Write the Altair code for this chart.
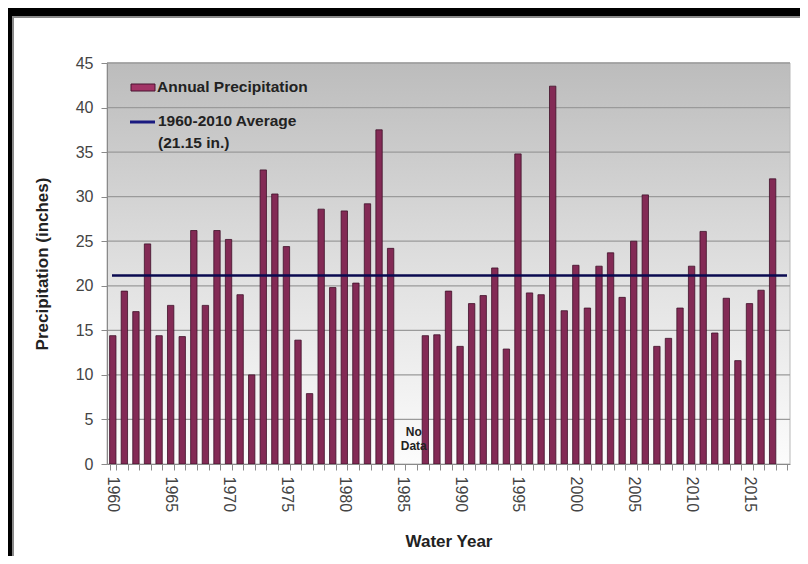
import altair as alt
import pandas as pd

years = list(range(1960, 2019))
precip = [14.4, 19.4, 17.1, 24.7, 14.4, 17.8, 14.3, 26.2, 17.8, 26.2,
          25.2, 19.0, 10.0, 33.0, 30.3, 24.4, 13.9, 7.9, 28.6, 19.8,
          28.4, 20.3, 29.2, 37.5, 24.2, None, None, 14.4, 14.5, 19.4,
          13.2, 18.0, 18.9, 22.0, 12.9, 34.8, 19.2, 19.0, 42.4, 17.2,
          22.3, 17.5, 22.2, 23.7, 18.7, 25.0, 30.2, 13.2, 14.1, 17.5,
          22.2, 26.1, 14.7, 18.6, 11.6, 18.0, 19.5, 32.0, None]
average = 21.15
grid_values = [5, 10, 15, 20, 25, 30, 35, 40, 45]
y_ticks = [0, 5, 10, 15, 20, 25, 30, 35, 40, 45]
no_data_year = 1986
no_data_label = "No\nData"
legend_bar_label = "Annual Precipitation"
legend_line_label1 = "1960-2010 Average"
legend_line_label2 = "(21.15 in.)"

W, H = 683, 401
FONT = "Liberation Sans"

df = pd.DataFrame({"year": years, "precip": precip})
one = pd.DataFrame({"a": [0]})

yscale = alt.Scale(domain=[0, 45], nice=False)
xscale = alt.Scale(domain=years, paddingInner=0.45, paddingOuter=0.225)
YTITLE = "Precipitation (inches)"
XTITLE = "Water Year"

yaxis = alt.Axis(values=y_ticks, grid=False, tickSize=6,
                 tickColor="#8a8a8a", domainColor="#8a8a8a", labelFont=FONT,
                 labelFontSize=16, labelColor="#444", labelPadding=8,
                 titleFont=FONT, titleFontSize=17, titleFontWeight="bold",
                 titleColor="#222", titlePadding=24, zindex=1)
xaxis = alt.Axis(labelAngle=90, labelExpr="datum.value % 5 === 0 ? datum.label : ''",
                 tickBand="extent", tickSize=6, tickColor="#8a8a8a",
                 domainColor="#8a8a8a", labelFont=FONT, labelFontSize=16,
                 labelColor="#444", labelPadding=6, titleFont=FONT,
                 titleFontSize=17, titleFontWeight="bold", titleColor="#222",
                 titlePadding=22, zindex=1)

frame_black = alt.Chart(one).mark_rect(color="black").encode(
    x=alt.value(-99), x2=alt.value(W + 30), y=alt.value(-55), y2=alt.value(H + 100))
frame_white = alt.Chart(one).mark_rect(fill="white", stroke="#8a8a8a", strokeWidth=2).encode(
    x=alt.value(-94), x2=alt.value(W + 40), y=alt.value(-46), y2=alt.value(H + 120))

plot_bg = alt.Chart(one).mark_rect(
    color=alt.Gradient(gradient="linear", x1=0, x2=0, y1=0, y2=1,
                       stops=[alt.GradientStop(color="#bcbcbc", offset=0),
                              alt.GradientStop(color="#e2e2e2", offset=0.55),
                              alt.GradientStop(color="#fcfcfc", offset=1)]),
    stroke="#b8b8b8", strokeWidth=1).encode(
    x=alt.value(0), x2=alt.value(W), y=alt.value(0), y2=alt.value(H))

grid = alt.Chart(pd.DataFrame({"v": grid_values})).mark_rule(
    color="#9a9a9a", strokeWidth=1.3).encode(
    y=alt.Y("v:Q", scale=yscale, title=YTITLE, axis=yaxis))

bars = alt.Chart(df).mark_bar(color="#832a55", stroke="#3f1028", strokeWidth=0.8).encode(
    x=alt.X("year:O", scale=xscale, title=XTITLE, axis=xaxis),
    y=alt.Y("precip:Q", scale=yscale, title=YTITLE, axis=yaxis))

avg = alt.Chart(pd.DataFrame({"avg": [average]})).mark_rule(
    color="#0a0a50", strokeWidth=2.5).encode(
    y=alt.Y("avg:Q", scale=yscale, title=YTITLE, axis=yaxis),
    x=alt.value(5), x2=alt.value(W - 3))

nodata = alt.Chart(pd.DataFrame({"year": [no_data_year], "v": [3.6], "t": [no_data_label]})).mark_text(
    font=FONT, fontSize=12, fontWeight="bold", color="#222", lineBreak="\n",
    baseline="middle", align="center").encode(
    x=alt.X("year:O", scale=xscale, title=XTITLE, axis=xaxis),
    y=alt.Y("v:Q", scale=yscale, title=YTITLE, axis=yaxis), text="t:N")

leg_rect = alt.Chart(one).mark_rect(fill="#a23466", stroke="#4a1230", strokeWidth=1).encode(
    x=alt.value(24), x2=alt.value(48), y=alt.value(21), y2=alt.value(28))
leg_line = alt.Chart(one).mark_rule(color="#1a1a80", strokeWidth=3).encode(
    x=alt.value(23), x2=alt.value(48), y=alt.value(59))
leg_t1 = alt.Chart(one).mark_text(font=FONT, fontSize=15.5, fontWeight="bold", color="#222",
                                  align="left", baseline="middle").encode(
    x=alt.value(50), y=alt.value(24), text=alt.value(legend_bar_label))
leg_t2 = alt.Chart(one).mark_text(font=FONT, fontSize=15.5, fontWeight="bold", color="#222",
                                  align="left", baseline="middle").encode(
    x=alt.value(51), y=alt.value(58), text=alt.value(legend_line_label1))
leg_t3 = alt.Chart(one).mark_text(font=FONT, fontSize=15.5, fontWeight="bold", color="#222",
                                  align="left", baseline="middle").encode(
    x=alt.value(51), y=alt.value(80), text=alt.value(legend_line_label2))

chart = alt.layer(frame_black, frame_white, plot_bg, grid, bars, avg, nodata,
                  leg_rect, leg_line, leg_t1, leg_t2, leg_t3).properties(
    width=W, height=H,
    autosize=alt.AutoSizeParams(type="none"),
    padding={"left": 99, "top": 55, "right": 10, "bottom": 92},
    background="white",
).configure_view(stroke=None)

chart.save("out.html", embed_options={"renderer": "svg", "actions": False})
